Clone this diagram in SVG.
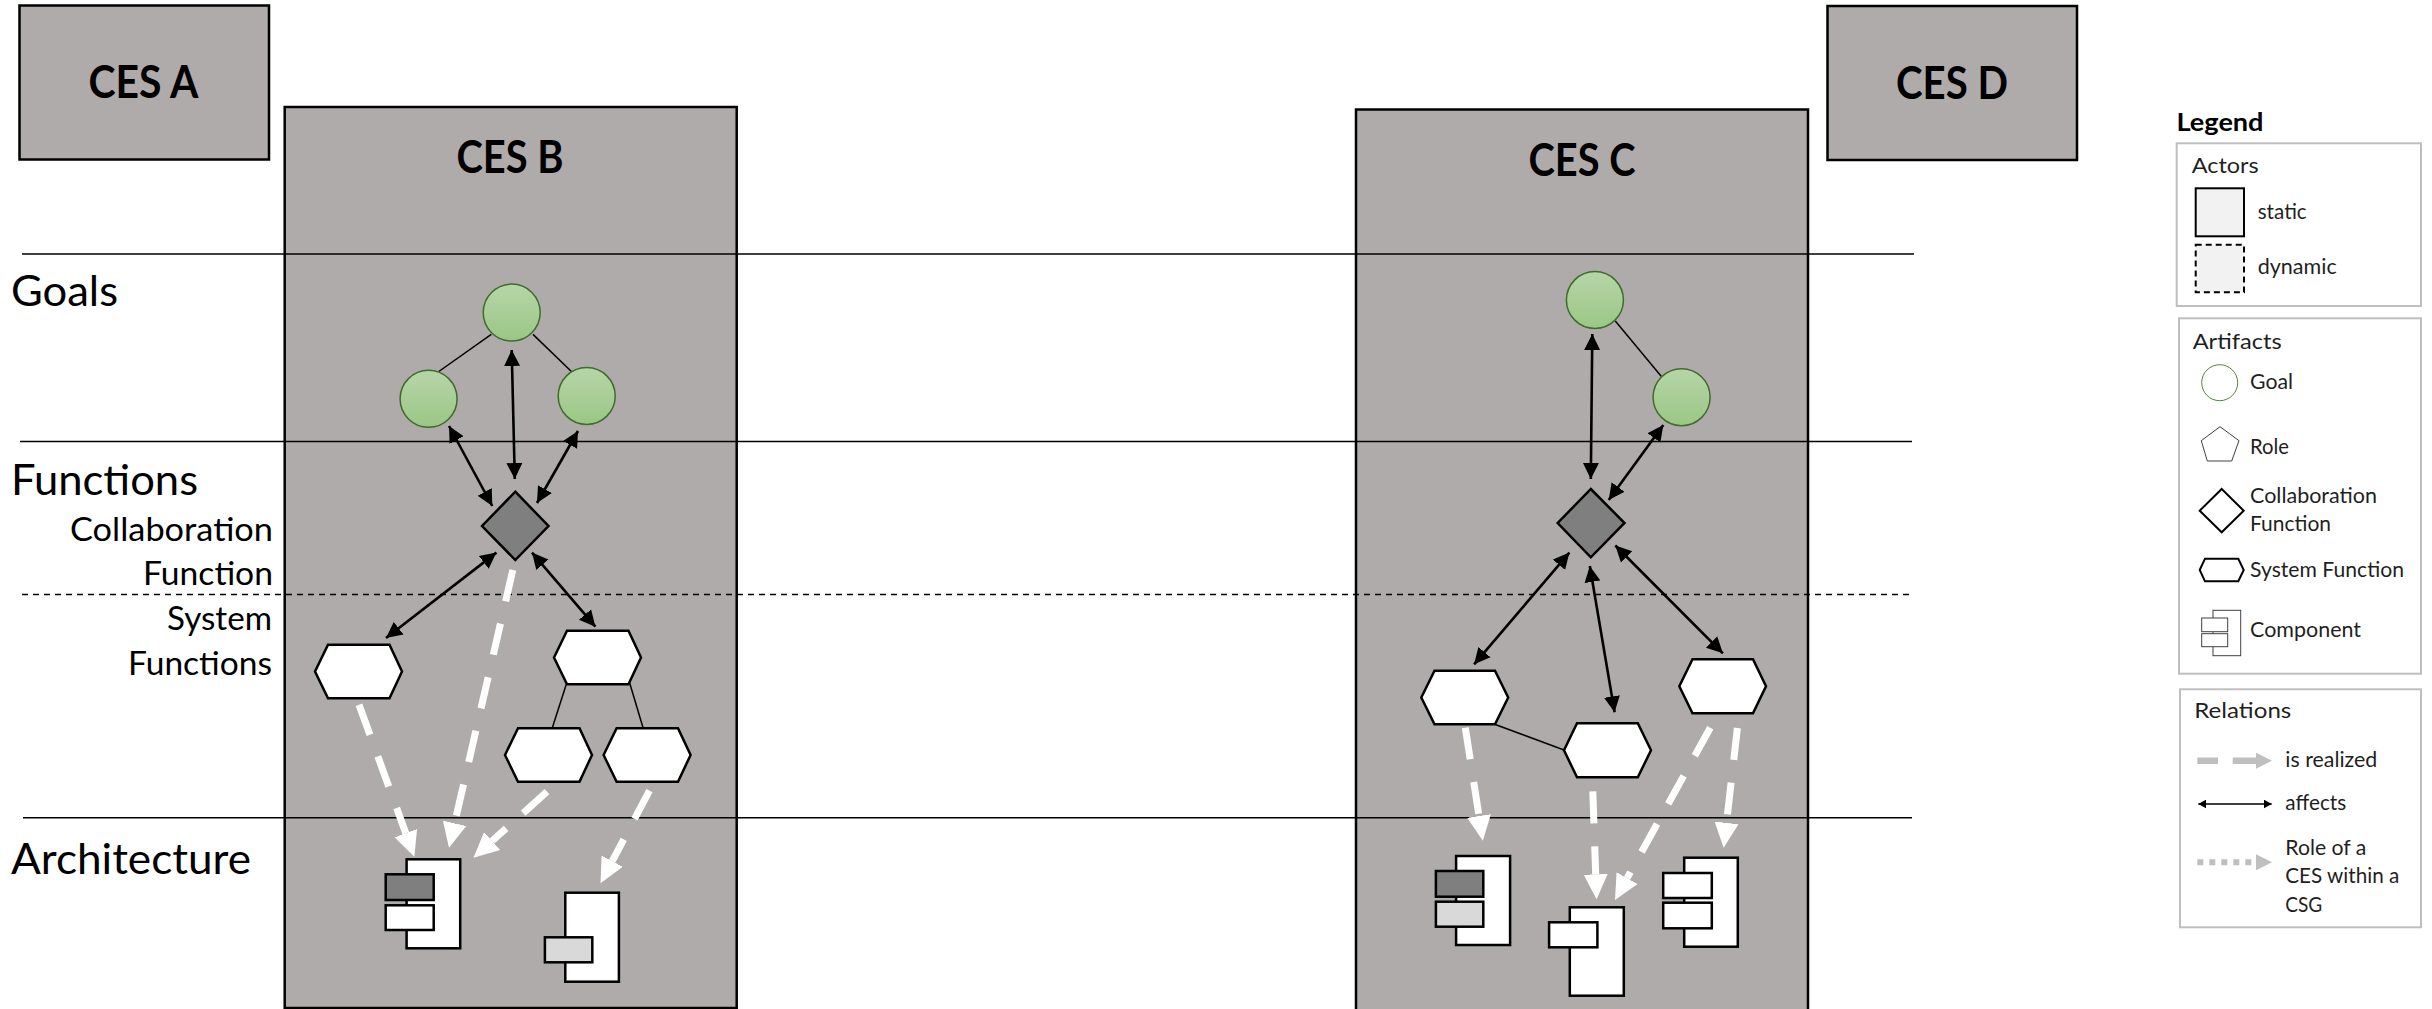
<svg xmlns="http://www.w3.org/2000/svg" width="2432" height="1009" viewBox="0 0 2432 1009">
<style>
text{font-family:"Lato","Liberation Sans",sans-serif;fill:#000}
.t{font-size:45px;font-weight:700;text-anchor:middle}
.l{font-size:42px}
.m{font-size:32px;text-anchor:end}
.s{font-size:20.5px;fill:#1f1f1f}
.ces{fill:#afabab;stroke:#000;stroke-width:2.5}
.rule{stroke:#000;stroke-width:1.5;fill:none}
.thin{stroke:#000;stroke-width:1.5;fill:none}
.goal{fill:url(#g);stroke:#3f6b2b;stroke-width:1.5}
.dia{fill:#7f7f7f;stroke:#000;stroke-width:2.5}
.hex{fill:#fff;stroke:#000;stroke-width:2.5}
.c{fill:#fff;stroke:#000;stroke-width:2.5}
.dk{fill:#7f7f7f}.lt{fill:#d9d9d9}
.af{stroke:#000;stroke-width:2.6;fill:none;marker-start:url(#bh);marker-end:url(#bh)}
.re{stroke:#fff;stroke-width:7;stroke-dasharray:32 23;fill:none;marker-end:url(#wh)}
.box{fill:#fff;stroke:#bfbfbf;stroke-width:2}
</style>
<defs>
<linearGradient id="g" x1="0" y1="0" x2="0" y2="1"><stop offset="0" stop-color="#b7d5a8"/><stop offset="1" stop-color="#9ac785"/></linearGradient>
<marker id="bh" markerUnits="userSpaceOnUse" markerWidth="18" markerHeight="18" refX="16" refY="9" orient="auto-start-reverse"><path d="M0,1L16,9L0,17Z" fill="#000"/></marker>
<marker id="wh" markerUnits="userSpaceOnUse" markerWidth="26" markerHeight="26" refX="0" refY="13" orient="auto"><path d="M0,1L25,13L0,25Z" fill="#fff"/></marker>
<marker id="gh" markerUnits="userSpaceOnUse" markerWidth="17" markerHeight="17" refX="0" refY="8" orient="auto"><path d="M0,0L16,8L0,16Z" fill="#bfbfbf"/></marker>
<marker id="sh" markerUnits="userSpaceOnUse" markerWidth="9" markerHeight="9" refX="8" refY="4.5" orient="auto-start-reverse"><path d="M0,0L8,4.5L0,9Z" fill="#000"/></marker>
</defs>

<g id="ces-a"><rect class="ces" x="19.5" y="5.5" width="249.5" height="154"/><text class="t" x="143.5" y="97.5" textLength="110" lengthAdjust="spacingAndGlyphs">CES A</text></g>
<g id="ces-b"><rect class="ces" x="284.7" y="107" width="452" height="901"/><text class="t" x="510" y="173" textLength="107" lengthAdjust="spacingAndGlyphs">CES B</text></g>
<g id="ces-c"><rect class="ces" x="1356" y="109.5" width="452" height="905"/><text class="t" x="1582" y="176" textLength="107" lengthAdjust="spacingAndGlyphs">CES C</text></g>
<g id="ces-d"><rect class="ces" x="1827.5" y="6" width="249.5" height="154"/><text class="t" x="1952" y="98.5" textLength="112" lengthAdjust="spacingAndGlyphs">CES D</text></g>

<g id="layers">
<line class="rule" x1="22" y1="254" x2="1914" y2="254"/>
<line class="rule" x1="20" y1="441.5" x2="1912" y2="441.5"/>
<line class="rule" x1="22" y1="594.5" x2="1911" y2="594.5" stroke-dasharray="6 5"/>
<line class="rule" x1="23" y1="817.7" x2="1912" y2="817.7"/>
<text class="l" x="11" y="306" textLength="107" lengthAdjust="spacingAndGlyphs">Goals</text>
<text class="l" x="11" y="495" textLength="187" lengthAdjust="spacingAndGlyphs">Functions</text>
<text class="m" x="273" y="541" textLength="203" lengthAdjust="spacingAndGlyphs">Collaboration</text>
<text class="m" x="273" y="585" textLength="130" lengthAdjust="spacingAndGlyphs">Function</text>
<text class="m" x="272" y="630" textLength="105" lengthAdjust="spacingAndGlyphs">System</text>
<text class="m" x="272" y="675" textLength="144" lengthAdjust="spacingAndGlyphs">Functions</text>
<text class="l" x="11" y="874" textLength="240" lengthAdjust="spacingAndGlyphs">Architecture</text>
</g>

<g id="connectors">
<line class="thin" x1="438.8" y1="371.5" x2="491.3" y2="334.4"/>
<line class="thin" x1="533" y1="334.4" x2="571.4" y2="371.5"/>
<line class="thin" x1="566.3" y1="684.3" x2="552.5" y2="727.3"/>
<line class="thin" x1="629.6" y1="682.7" x2="642.9" y2="727.3"/>
<line class="thin" x1="1615.3" y1="321" x2="1661.2" y2="376.3"/>
<line class="thin" x1="1495.9" y1="724.7" x2="1564" y2="750"/>
<line class="af" x1="511.7" y1="350" x2="514.8" y2="479"/>
<line class="af" x1="449" y1="426" x2="492.3" y2="506"/>
<line class="af" x1="578" y1="431" x2="537" y2="503"/>
<line class="af" x1="496.4" y1="552.6" x2="386" y2="638"/>
<line class="af" x1="532" y1="552.6" x2="595.4" y2="626.7"/>
<line class="af" x1="1592.3" y1="334" x2="1590.8" y2="479"/>
<line class="af" x1="1663.3" y1="424.9" x2="1608.7" y2="500"/>
<line class="af" x1="1569.4" y1="552.6" x2="1474.1" y2="664.3"/>
<line class="af" x1="1589.8" y1="566" x2="1614.6" y2="712.3"/>
<line class="af" x1="1615.3" y1="545.5" x2="1722.9" y2="653.3"/>
<path class="re" d="M359,704.7L405.8,833.2"/>
<path class="re" d="M512.8,570L454.6,823.3"/>
<path class="re" d="M547,791.7L492.1,841"/>
<path class="re" d="M649.5,790.7L612.2,861.2"/>
<path class="re" d="M1465.3,727.7L1479,816"/>
<path class="re" d="M1592.8,791.3L1595.7,874.3"/>
<path class="re" d="M1710.3,727.7L1627.1,878.1"/>
<path class="re" d="M1737.4,728L1726.5,822.9"/>
</g>

<g id="goal-b1"><circle class="goal" cx="511.7" cy="312.6" r="28.5"/></g>
<g id="goal-b2"><circle class="goal" cx="428.6" cy="398.8" r="28.5"/></g>
<g id="goal-b3"><circle class="goal" cx="586.7" cy="396" r="28.5"/></g>
<g id="collab-b"><polygon class="dia" points="515.3,491.7 548.5,526 515.3,560 482,526"/></g>
<g id="hex-b1"><polygon class="hex" points="315,671.5 328,644.7 389.5,644.7 402,671.5 389.5,698.3 328,698.3"/></g>
<g id="hex-b2"><polygon class="hex" points="554,657.5 567,630.7 628.5,630.7 641,657.5 628.5,684.3 567,684.3"/></g>
<g id="hex-b3"><polygon class="hex" points="505,755 518,728.2 579.5,728.2 592,755 579.5,781.7 518,781.7"/></g>
<g id="hex-b4"><polygon class="hex" points="603.6,755 616.6,728.2 678,728.2 690.6,755 678,781.7 616.6,781.7"/></g>
<g id="comp-b1"><rect class="c" x="406.6" y="859.3" width="53.6" height="89"/><rect class="c dk" x="385.7" y="874.3" width="48" height="25.7"/><rect class="c" x="385.7" y="905.3" width="48" height="24.7"/></g>
<g id="comp-b2"><rect class="c" x="565.3" y="892.7" width="53.6" height="89"/><rect class="c lt" x="544.9" y="937.3" width="47.4" height="25"/></g>

<g id="goal-c1"><circle class="goal" cx="1594.9" cy="300" r="28.5"/></g>
<g id="goal-c2"><circle class="goal" cx="1681.6" cy="397.2" r="28.5"/></g>
<g id="collab-c"><polygon class="dia" points="1590.8,489 1624.5,523 1590.8,557.3 1557.7,523"/></g>
<g id="hex-c1"><polygon class="hex" points="1421.3,697.5 1434.5,670.7 1495,670.7 1508.2,697.5 1495,724.3 1434.5,724.3"/></g>
<g id="hex-c2"><polygon class="hex" points="1564,750.3 1577,723.3 1637.8,723.3 1651,750.3 1637.8,777.3 1577,777.3"/></g>
<g id="hex-c3"><polygon class="hex" points="1679.3,686.3 1692.5,659.3 1753,659.3 1766,686.3 1753,713.3 1692.5,713.3"/></g>
<g id="comp-c1"><rect class="c" x="1456.1" y="856" width="54" height="89"/><rect class="c dk" x="1435.9" y="871" width="47.4" height="25.7"/><rect class="c lt" x="1435.9" y="901.7" width="47.4" height="25"/></g>
<g id="comp-c2"><rect class="c" x="1569.8" y="907.3" width="54" height="88.4"/><rect class="c" x="1549.1" y="922.3" width="48.3" height="25"/></g>
<g id="comp-c3"><rect class="c" x="1684.2" y="857.7" width="53.6" height="89"/><rect class="c" x="1663.2" y="873" width="48.6" height="25"/><rect class="c" x="1663.2" y="902.7" width="48.6" height="25.6"/></g>

<g id="legend">
<text class="s" x="2176.5" y="131" style="font-size:24px;font-weight:700;fill:#000" textLength="87" lengthAdjust="spacingAndGlyphs">Legend</text>
<rect class="box" x="2176.7" y="143.3" width="244.3" height="162.7"/>
<text class="s" x="2191.7" y="173" style="font-size:22px" textLength="67" lengthAdjust="spacingAndGlyphs">Actors</text>
<rect x="2195.7" y="188.3" width="48.3" height="48" fill="#f2f2f2" stroke="#000" stroke-width="2"/>
<rect x="2195.7" y="244.7" width="48.3" height="47.6" fill="#f2f2f2" stroke="#000" stroke-width="2" stroke-dasharray="6 4"/>
<text class="s" x="2257.7" y="218.7" textLength="49" lengthAdjust="spacingAndGlyphs">static</text>
<text class="s" x="2257.7" y="273.7" textLength="79" lengthAdjust="spacingAndGlyphs">dynamic</text>

<rect class="box" x="2179" y="318.3" width="242" height="355.4"/>
<text class="s" x="2192.7" y="349.3" style="font-size:22px" textLength="89" lengthAdjust="spacingAndGlyphs">Artifacts</text>
<circle cx="2219.7" cy="382.7" r="18" fill="#fff" stroke="#548235" stroke-width="1"/>
<text class="s" x="2250" y="389" textLength="43" lengthAdjust="spacingAndGlyphs">Goal</text>
<polygon points="2220,426.7 2239,440.7 2231.7,461 2207.3,461 2201.3,440.7" fill="#fff" stroke="#404040" stroke-width="1"/>
<text class="s" x="2250" y="454" textLength="39" lengthAdjust="spacingAndGlyphs">Role</text>
<polygon points="2221.7,489 2243.7,510.7 2221.7,532.3 2199.7,510.7" fill="#fff" stroke="#000" stroke-width="2"/>
<text class="s" x="2250" y="503.3" textLength="127" lengthAdjust="spacingAndGlyphs">Collaboration</text>
<text class="s" x="2250" y="531" textLength="81" lengthAdjust="spacingAndGlyphs">Function</text>
<polygon points="2199.7,570 2205,558.7 2238.3,558.7 2243.7,570 2238.3,581.3 2205,581.3" fill="#fff" stroke="#000" stroke-width="2"/>
<text class="s" x="2250" y="577.3" textLength="154" lengthAdjust="spacingAndGlyphs">System Function</text>
<rect x="2213" y="610.3" width="27.7" height="45.4" fill="#fff" stroke="#404040" stroke-width="1"/>
<rect x="2201.7" y="618" width="26" height="13.7" fill="#fff" stroke="#404040" stroke-width="1"/>
<rect x="2201.7" y="633.7" width="26" height="13" fill="#fff" stroke="#404040" stroke-width="1"/>
<text class="s" x="2250" y="637.3" textLength="111" lengthAdjust="spacingAndGlyphs">Component</text>

<rect class="box" x="2180" y="689.3" width="241" height="238"/>
<text class="s" x="2194.3" y="718.3" style="font-size:22px" textLength="97" lengthAdjust="spacingAndGlyphs">Relations</text>
<path d="M2197.3,760.7H2256" stroke="#bfbfbf" stroke-width="6.5" stroke-dasharray="20.7 14.7 24" fill="none" marker-end="url(#gh)"/>
<text class="s" x="2285.3" y="767.3" textLength="92" lengthAdjust="spacingAndGlyphs">is realized</text>
<path d="M2198.3,804H2271.7" stroke="#000" stroke-width="1.5" fill="none" marker-start="url(#sh)" marker-end="url(#sh)"/>
<text class="s" x="2285.3" y="810" textLength="61" lengthAdjust="spacingAndGlyphs">affects</text>
<path d="M2197.3,862.3H2256" stroke="#bfbfbf" stroke-width="6" stroke-dasharray="6 6" fill="none" marker-end="url(#gh)"/>
<text class="s" x="2285.3" y="855" textLength="81" lengthAdjust="spacingAndGlyphs">Role of a</text>
<text class="s" x="2285.3" y="882.7" textLength="114" lengthAdjust="spacingAndGlyphs">CES within a</text>
<text class="s" x="2285.3" y="911.7" textLength="37" lengthAdjust="spacingAndGlyphs">CSG</text>
</g>
</svg>
